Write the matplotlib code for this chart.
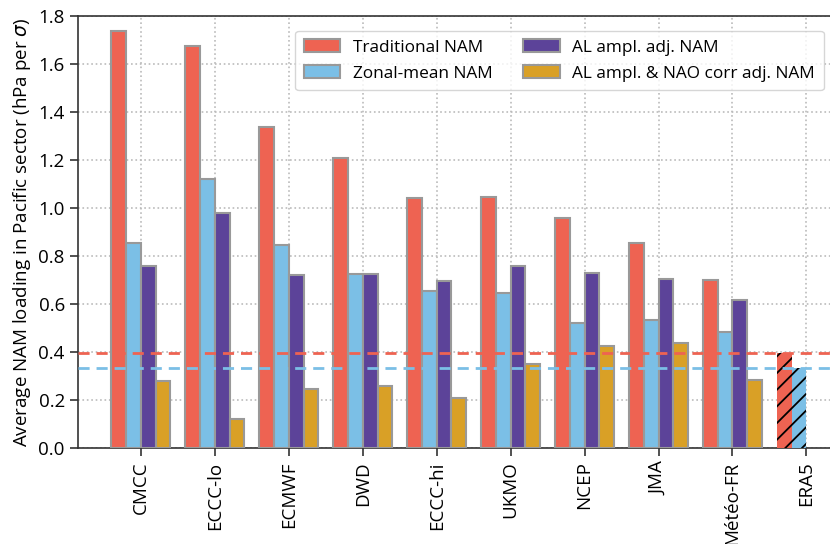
import numpy as np
import matplotlib.pyplot as plt

plt.rcParams['font.family'] = ['Open Sans', 'DejaVu Sans']
plt.rcParams['hatch.linewidth'] = 1.3

#---------------- data ----------------
models = ['CMCC', 'ECCC-lo', 'ECMWF', 'DWD', 'ECCC-hi', 'UKMO', 'NCEP', 'JMA', 'Météo-FR']
trad   = [1.737, 1.676, 1.339, 1.206, 1.040, 1.045, 0.960, 0.855, 0.700]
zonal  = [0.854, 1.120, 0.845, 0.724, 0.655, 0.645, 0.520, 0.535, 0.485]
al_adj = [0.758, 0.980, 0.721, 0.724, 0.695, 0.760, 0.730, 0.705, 0.615]
al_nao = [0.279, 0.120, 0.247, 0.260, 0.210, 0.350, 0.425, 0.440, 0.285]
era5_trad  = 0.397
era5_zonal = 0.333

c_red, c_blue, c_purp, c_gold = '#EE6352', '#7BBFE6', '#5C4399', '#D9A026'
edge = '#999999'

#---------------- plot ----------------
fig = plt.figure(figsize=(8.3, 5.44), dpi=100)
ax = fig.add_axes([0.094, 0.176, 0.907, 0.795])

x = np.arange(len(models))
w = 0.2
kw = dict(width=w, edgecolor=edge, linewidth=1.5, zorder=3)
ax.bar(x - 1.5*w, trad, color=c_red, label='Traditional NAM', **kw)
ax.bar(x - 0.5*w, zonal, color=c_blue, label='Zonal-mean NAM', **kw)
ax.bar(x + 0.5*w, al_adj, color=c_purp, label='AL ampl. adj. NAM', **kw)
ax.bar(x + 1.5*w, al_nao, color=c_gold, label='AL ampl. & NAO corr adj. NAM', **kw)

# reanalysis
xe = len(models)
ax.bar(xe - 1.5*w, era5_trad, width=w, color=c_red, edgecolor='k', hatch='//', linewidth=0, zorder=3)
ax.bar(xe - 0.5*w, era5_zonal, width=w, color=c_blue, edgecolor='k', hatch='//', linewidth=0, zorder=3)

ax.axhline(era5_trad, color=c_red, ls=(0, (4, 2.5)), lw=2, zorder=4)
ax.axhline(era5_zonal, color=c_blue, ls=(0, (4, 2.5)), lw=2, zorder=4)

ax.set_xticks(list(x) + [xe])
ax.set_xticklabels(models + ['ERA5'], rotation=90, fontsize=13.5)
ax.set_xlim(-0.85, 9.33)
ax.set_ylim(0, 1.8)
ax.set_yticks(np.arange(0, 1.81, 0.2))
ax.set_yticklabels([f'{v:.1f}' for v in np.arange(0, 1.81, 0.2)], fontsize=13.5)
ax.set_ylabel(r'Average NAM loading in Pacific sector (hPa per $\sigma$)', fontsize=13.5)
ax.tick_params(direction='out', length=6, width=1.2, color='#333333')
ax.grid(True, ls=':', color='#bbbbbb', lw=1.2, zorder=0)
for s in ax.spines.values():
    s.set_color('#333333')
    s.set_linewidth(1.2)

ax.legend(ncol=2, loc='upper right', fontsize=12.4, frameon=True,
          edgecolor='#cccccc', columnspacing=1.8, handlelength=2.1,
          handleheight=0.75, handletextpad=0.75, labelspacing=0.55,
          borderpad=0.5, bbox_to_anchor=(1.002, 0.985))

fig.savefig('out.png', dpi=100)
